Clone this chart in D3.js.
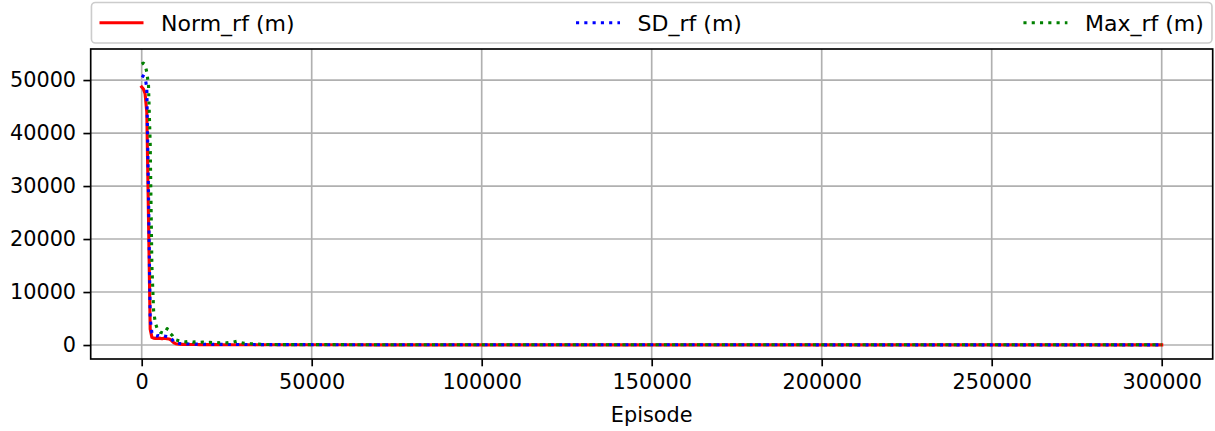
<!DOCTYPE html>
<html>
<head>
<meta charset="utf-8">
<script src="https://cdn.jsdelivr.net/npm/d3@7"></script>
<style>
  html, body { margin: 0; padding: 0; background: #ffffff; }
  svg { display: block; }
  text { font-family: "DejaVu Sans", sans-serif; }
</style>
</head>
<body>
<svg id="chart" width="1215" height="431"></svg>
<script>
// ---- data ----
const episodes = [
  0, 500, 1000, 1500, 2000, 2500, 3000, 3500, 4000, 4500,
  5000, 5500, 6000, 6500, 7000, 7500, 8000, 8500, 9000, 9500,
  10000, 11000, 12000, 13000, 14000, 15000, 16000, 17000, 18000, 19000,
  20000, 21000, 22000, 23000, 24000, 25000, 26000, 27000, 28000, 29000,
  30000, 31000, 32000, 33000, 34000, 35000, 36000, 37000, 38000, 39000,
  40000, 50000, 60000, 70000, 80000, 90000, 100000, 110000, 120000, 130000,
  140000, 150000, 160000, 170000, 180000, 190000, 200000, 210000, 220000, 230000,
  240000, 250000, 260000, 270000, 280000, 290000, 300000
];
const normRf = [
  48700, 48300, 47400, 44000, 24000, 3000, 1450, 1300, 1250, 1250,
  1300, 1250, 1200, 1300, 1250, 1200, 1150, 1000, 700, 400,
  250, 150, 120, 100, 100, 90, 90, 80, 80, 80,
  70, 70, 70, 70, 60, 60, 60, 60, 60, 60,
  55, 55, 55, 55, 50, 50, 50, 50, 50, 50,
  50, 45, 42, 40, 38, 36, 35, 34, 33, 32,
  31, 30, 30, 29, 28, 28, 27, 27, 26, 26,
  25, 25, 25, 24, 24, 24, 23
];
const sdRf = [
  50900, 50700, 50500, 48500, 29000, 5000, 2300, 1900, 1800, 1700,
  1800, 1700, 1650, 1700, 1650, 1600, 1500, 1400, 1000, 600,
  400, 300, 250, 220, 200, 180, 170, 160, 150, 150,
  140, 130, 130, 120, 120, 110, 110, 110, 110, 100,
  100, 95, 90, 90, 85, 85, 80, 80, 80, 75,
  75, 65, 60, 57, 55, 52, 50, 49, 48, 47,
  46, 45, 44, 43, 42, 42, 41, 40, 40, 39,
  39, 38, 38, 37, 37, 36, 36
];
const maxRf = [
  53000, 53200, 52900, 51500, 49000, 38000, 15000, 6500, 4200, 3200,
  2700, 2400, 2300, 2200, 2500, 3100, 2600, 2100, 1800, 1300,
  1000, 800, 650, 600, 700, 550, 600, 500, 550, 450,
  500, 450, 500, 400, 450, 400, 500, 550, 700, 500,
  350, 300, 250, 250, 200, 150, 120, 100, 100, 90,
  80, 70, 65, 62, 60, 58, 56, 55, 54, 53,
  52, 51, 50, 50, 49, 49, 48, 48, 47, 47,
  46, 46, 45, 45, 44, 44, 43
];
const xTicks = [0, 50000, 100000, 150000, 200000, 250000, 300000];
const yTicks = [0, 10000, 20000, 30000, 40000, 50000];
const seriesNames = ["Norm_rf (m)", "SD_rf (m)", "Max_rf (m)"];
const seriesColors = ["#ff0000", "#0000ff", "#008000"];
const xLabel = "Episode";

// ---- layout ----
const FS = 20.8;             // tick / label font
const LFS = 22;              // legend font
const LW = 3.125;            // line width
const plot = { left: 90.7, right: 1212.7, top: 49, bottom: 359 };

const svg = d3.select("#chart");

const xMin = 0, xMax = 300000;
const xPad = (xMax - xMin) * 0.05;
const x = d3.scaleLinear().domain([xMin - xPad, xMax + xPad]).range([plot.left, plot.right]);

const allVals = normRf.concat(sdRf, maxRf);
const [vMin, vMax] = d3.extent(allVals);
const yPad = (vMax - vMin) * 0.05;
const y = d3.scaleLinear().domain([vMin - yPad, vMax + yPad]).range([plot.bottom, plot.top]);

// clip
svg.append("defs").append("clipPath").attr("id", "clip")
  .append("rect")
  .attr("x", plot.left).attr("y", plot.top)
  .attr("width", plot.right - plot.left).attr("height", plot.bottom - plot.top);

// grid
const grid = svg.append("g").attr("stroke", "#b0b0b0").attr("stroke-width", 1.67);
grid.selectAll(".gx").data(xTicks).join("line")
  .attr("x1", d => x(d)).attr("x2", d => x(d))
  .attr("y1", plot.top).attr("y2", plot.bottom);
grid.selectAll(".gy").data(yTicks).join("line")
  .attr("x1", plot.left).attr("x2", plot.right)
  .attr("y1", d => y(d)).attr("y2", d => y(d));

// lines
const seriesData = [normRf, sdRf, maxRf];
const dashes = [null, `${LW},${LW * 1.65}`, `${LW},${LW * 1.65}`];
const line = d3.line().x((d, i) => x(episodes[i])).y(d => y(d));
const lineG = svg.append("g").attr("clip-path", "url(#clip)");
seriesData.forEach((vals, k) => {
  lineG.append("path")
    .attr("d", line(vals))
    .attr("fill", "none")
    .attr("stroke", seriesColors[k])
    .attr("stroke-width", LW)
    .attr("stroke-linejoin", "round")
    .attr("stroke-linecap", k === 0 ? "square" : "butt")
    .attr("stroke-dasharray", dashes[k]);
});

// axes
const xAxis = d3.axisBottom(x).tickValues(xTicks).tickFormat(d3.format("d"))
  .tickSize(7.3).tickPadding(7.3);
const yAxis = d3.axisLeft(y).tickValues(yTicks).tickFormat(d3.format("d"))
  .tickSize(7.3).tickPadding(7.3);

const gx = svg.append("g").attr("transform", `translate(0,${plot.bottom})`).call(xAxis);
const gy = svg.append("g").attr("transform", `translate(${plot.left},0)`).call(yAxis);
[gx, gy].forEach(g => {
  g.select(".domain").remove();
  g.selectAll(".tick line").attr("stroke", "#000").attr("stroke-width", 1.67);
  g.selectAll(".tick text").attr("font-size", FS).attr("fill", "#000")
    .attr("font-family", "DejaVu Sans");
});
gx.selectAll(".tick text").attr("dy", "0.76em");

// frame
svg.append("rect")
  .attr("x", plot.left).attr("y", plot.top)
  .attr("width", plot.right - plot.left).attr("height", plot.bottom - plot.top)
  .attr("fill", "none").attr("stroke", "#000").attr("stroke-width", 1.67);

// x label
svg.append("text")
  .attr("x", (plot.left + plot.right) / 2).attr("y", 422)
  .attr("text-anchor", "middle").attr("font-size", FS).attr("fill", "#000")
  .text(xLabel);

// legend
const legTop = 2.5, legBottom = 43;
svg.append("rect")
  .attr("x", plot.left + 0.75).attr("y", legTop)
  .attr("width", plot.right - plot.left - 1.5).attr("height", legBottom - legTop)
  .attr("rx", 4).attr("ry", 4)
  .attr("fill", "#fff").attr("stroke", "#cccccc").attr("stroke-width", 1.6);

const legY = (legTop + legBottom) / 2;
const handleLen = 2 * LFS, textPad = 0.8 * LFS, innerPad = 0.4 * LFS;
const legG = svg.append("g");
const texts = seriesNames.map(n => legG.append("text")
  .attr("font-size", LFS).attr("fill", "#000").attr("y", legY + 7.8).text(n));
const widths = texts.map(t => t.node().getComputedTextLength());
const colW = widths.map(w => handleLen + textPad + w);
const avail = (plot.right - innerPad) - (plot.left + innerPad);
const gap = (avail - d3.sum(colW)) / (seriesNames.length - 1);
let cx = plot.left + innerPad;
seriesNames.forEach((n, k) => {
  legG.append("line")
    .attr("x1", cx).attr("x2", cx + handleLen)
    .attr("y1", legY).attr("y2", legY)
    .attr("stroke", seriesColors[k]).attr("stroke-width", LW)
    .attr("stroke-dasharray", dashes[k]);
  texts[k].attr("x", cx + handleLen + textPad);
  cx += colW[k] + gap;
});
</script>
</body>
</html>
